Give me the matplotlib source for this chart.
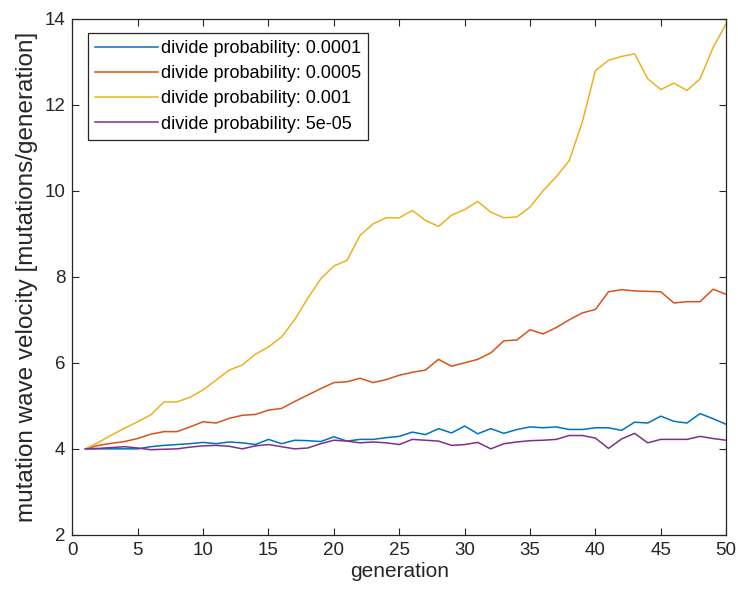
import matplotlib
matplotlib.use('Agg')
import matplotlib.pyplot as plt
import numpy as np

generation = np.arange(1, 51)

# divide probability 0.0001
v_0001 = [4.0, 4.0, 4.0, 4.0, 4.0, 4.05, 4.08, 4.1, 4.12, 4.15,
          4.12, 4.16, 4.14, 4.1, 4.22, 4.12, 4.2, 4.19, 4.17, 4.28,
          4.18, 4.22, 4.22, 4.26, 4.29, 4.39, 4.33, 4.47, 4.37, 4.53,
          4.35, 4.47, 4.36, 4.45, 4.51, 4.49, 4.51, 4.45, 4.45, 4.49,
          4.49, 4.43, 4.62, 4.6, 4.76, 4.64, 4.6, 4.82, 4.7, 4.57]
# divide probability 0.0005
v_0005 = [4.0, 4.08, 4.13, 4.17, 4.24, 4.34, 4.4, 4.4, 4.51, 4.63,
          4.6, 4.71, 4.78, 4.8, 4.9, 4.94, 5.1, 5.25, 5.4, 5.54,
          5.56, 5.64, 5.54, 5.61, 5.71, 5.78, 5.83, 6.08, 5.92, 6.0,
          6.08, 6.23, 6.51, 6.53, 6.77, 6.67, 6.82, 7.0, 7.16, 7.24,
          7.65, 7.7, 7.67, 7.66, 7.65, 7.39, 7.42, 7.42, 7.71, 7.59]
# divide probability 0.001
v_001 = [4.0, 4.15, 4.32, 4.48, 4.63, 4.79, 5.09, 5.09, 5.2, 5.37,
         5.6, 5.83, 5.95, 6.2, 6.37, 6.6, 7.0, 7.5, 7.95, 8.25,
         8.38, 8.96, 9.23, 9.37, 9.37, 9.54, 9.31, 9.17, 9.43, 9.56,
         9.75, 9.5, 9.37, 9.39, 9.62, 10.0, 10.32, 10.7, 11.6, 12.79,
         13.03, 13.12, 13.18, 12.6, 12.35, 12.5, 12.33, 12.6, 13.33, 13.88]
# divide probability 5e-05
v_5e05 = [4.0, 4.01, 4.03, 4.05, 4.02, 3.98, 3.99, 4.0, 4.04, 4.07,
          4.08, 4.06, 4.0, 4.07, 4.1, 4.05, 4.0, 4.02, 4.12, 4.2,
          4.18, 4.14, 4.16, 4.14, 4.1, 4.22, 4.2, 4.18, 4.08, 4.1,
          4.15, 4.0, 4.12, 4.16, 4.19, 4.2, 4.22, 4.31, 4.31, 4.25,
          4.01, 4.23, 4.36, 4.14, 4.22, 4.22, 4.22, 4.29, 4.24, 4.2]

labels = ['divide probability: 0.0001', 'divide probability: 0.0005',
          'divide probability: 0.001', 'divide probability: 5e-05']
colors = ['#0072BD', '#D95319', '#EDB120', '#7E2F8E']

plt.rcParams['font.family'] = ['Liberation Sans', 'DejaVu Sans']

fig = plt.figure(figsize=(7.38, 5.99), dpi=100)
ax = fig.add_axes([0.098, 0.107, 0.886, 0.862])

for vals, lab, col in zip([v_0001, v_0005, v_001, v_5e05], labels, colors):
    ax.plot(generation, vals, color=col, linewidth=1.1, label=lab)

ax.set_xlim(0, 50)
ax.set_ylim(2, 14)
ax.set_xticks(np.arange(0, 51, 5))
ax.set_yticks(np.arange(2, 15, 2))
ax.tick_params(direction='in', top=True, right=True, labelsize=13.5,
               length=5, width=0.8, colors='#262626', pad=5)
for s in ax.spines.values():
    s.set_linewidth(0.9)
    s.set_color('#262626')

ax.set_xlabel('generation', fontsize=15, color='#262626', labelpad=2)
ax.set_ylabel('mutation wave velocity [mutations/generation]', fontsize=17.5,
              color='#262626', labelpad=5)

leg = ax.legend(loc='upper left', bbox_to_anchor=(0.024, 0.972), fontsize=13,
                handlelength=3.5, handletextpad=0.12, labelspacing=0.45,
                borderpad=0.4, borderaxespad=0, fancybox=False, framealpha=1)
leg.get_frame().set_edgecolor('#262626')
leg.get_frame().set_linewidth(0.9)

fig.savefig('out.png', dpi=100)
